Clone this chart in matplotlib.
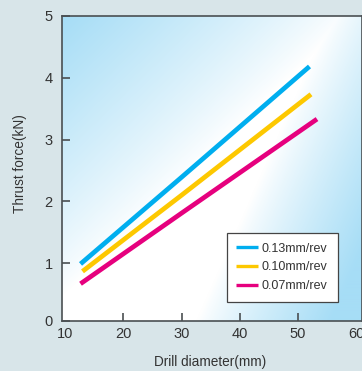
import numpy as np
import matplotlib
matplotlib.use("Agg")
import matplotlib.pyplot as plt
from matplotlib.colors import LinearSegmentedColormap

plt.rcParams['font.family'] = ['Liberation Sans', 'DejaVu Sans']

# ---- data ----
feed_labels = ["0.13mm/rev", "0.10mm/rev", "0.07mm/rev"]
colors = ["#00aeef", "#fdc800", "#e6007e"]
x_013 = [12.65, 30.0, 51.98]
y_013 = [0.99, 2.39, 4.18]
x_010 = [12.99, 30.0, 52.24]
y_010 = [0.87, 2.10, 3.73]
x_007 = [12.65, 30.0, 53.27]
y_007 = [0.67, 1.81, 3.33]
series_x = [x_013, x_010, x_007]
series_y = [y_013, y_010, y_007]

xtick_vals = [10, 20, 30, 40, 50, 60]
xtick_labels = ["10", "20", "30", "40", "50", "60"]
ytick_vals = [0.073, 1, 2, 3, 4, 5]
ytick_labels = ["0", "1", "2", "3", "4", "5"]

W, H = 362, 371
fig = plt.figure(figsize=(W / 100, H / 100), dpi=100)
fig.patch.set_facecolor("#d8e5e9")

ax = fig.add_axes([62.3 / W, (H - 320.7) / H, (W - 62.3) / W, (320.7 - 15.7) / H])
ax.set_xlim(9.52, 61.0)
ax.set_ylim(0.073, 5.0)

# background gradient: blue top-left and bottom-right, white along diagonal
n = 300
u = np.linspace(0, 1, n)
U, V = np.meshgrid(u, u)  # V: 0 bottom -> 1 top
A = np.clip((V - 0.95 * U - 0.08) / 0.92, 0, 1)
B = np.clip((U - 0.45 - 0.45 * V) / 0.45, 0, 1)
inten = np.maximum(A, B) ** 0.85
cmap = LinearSegmentedColormap.from_list("bg", ["#ffffff", "#a6ddf6"])
ax.imshow(inten, cmap=cmap, vmin=0, vmax=1, extent=[0, 1, 0, 1], origin="lower",
          transform=ax.transAxes, aspect="auto", zorder=0, interpolation="bilinear")

lines = []
for xs, ys, c, lab in zip(series_x, series_y, colors, feed_labels):
    ln, = ax.plot(xs, ys, color=c, lw=3.4, solid_capstyle="butt", label=lab, zorder=3)
    lines.append(ln)

for s in ["left", "bottom", "top", "right"]:
    ax.spines[s].set_color("#4a4f52")
    ax.spines[s].set_linewidth(1.2)

ax.set_xticks(xtick_vals)
ax.set_xticklabels(xtick_labels)
ax.set_yticks(ytick_vals)
ax.set_yticklabels(ytick_labels)
ax.tick_params(axis="x", direction="in", length=6, width=1.2, color="#4a4f52",
               labelsize=10.5, labelcolor="#333333", pad=4.5)
ax.tick_params(axis="y", direction="in", length=6, width=1.2, color="#4a4f52",
               labelsize=10.5, labelcolor="#333333", pad=7)
xt = ax.xaxis.get_major_ticks()
xt[0].tick1line.set_visible(False)
xt[-1].tick1line.set_visible(False)

ax.set_xlabel("Drill diameter(mm)", fontsize=9.8, color="#333333")
ax.set_ylabel("Thrust force(kN)", fontsize=9.8, color="#333333")
ax.xaxis.set_label_coords(0.493, -0.135)
ax.xaxis.label.set_va("center")
ax.yaxis.set_label_coords(-0.141, 0.515)
ax.yaxis.label.set_va("center")

leg = ax.legend(loc="lower left", bbox_to_anchor=(0.5486, 0.0623, 0.3724, 0.2374),
                mode="expand", fontsize=9, frameon=True, fancybox=False,
                framealpha=1, edgecolor="#444444", borderpad=0.75,
                labelspacing=0.55, handlelength=1.75, handletextpad=0.3,
                borderaxespad=0)
leg.get_frame().set_linewidth(0.9)
for l in leg.get_lines():
    l.set_linewidth(2.4)
for txt in leg.get_texts():
    txt.set_color("#333333")

fig.savefig("out.png", dpi=100, facecolor=fig.get_facecolor())
